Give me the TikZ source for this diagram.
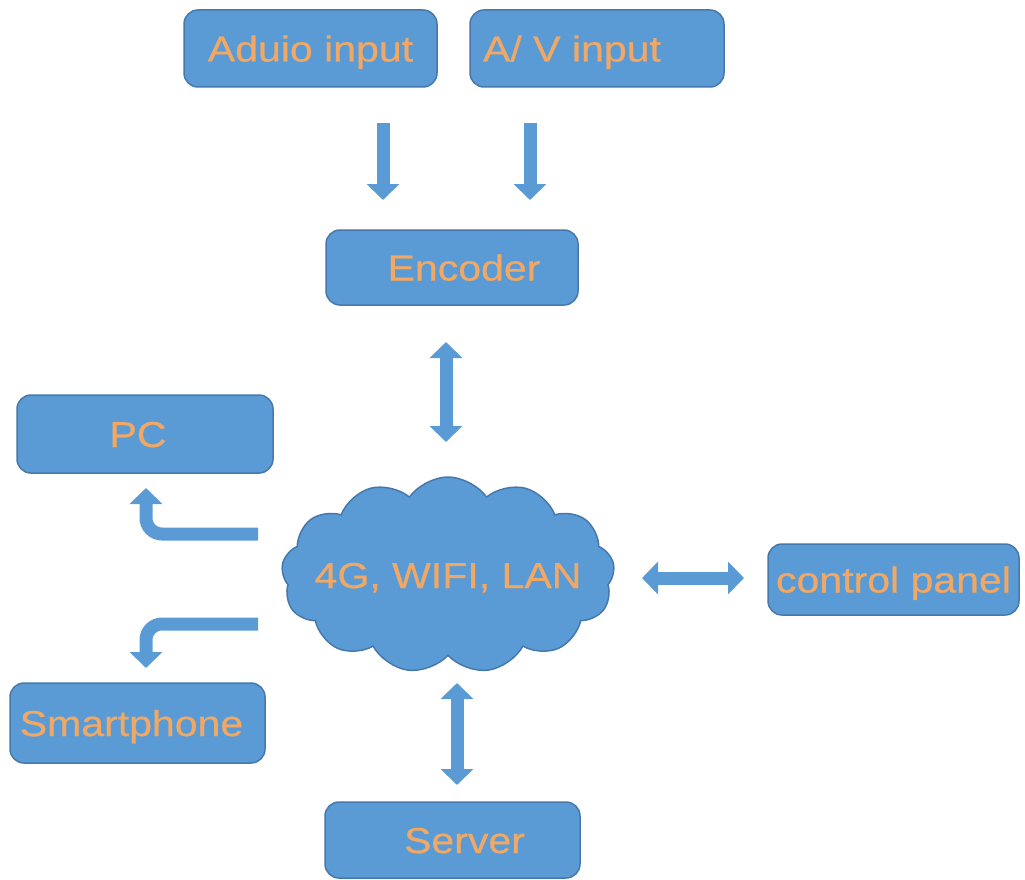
\documentclass[tikz,border=0pt]{standalone}
\usepackage{fontspec}
\setmainfont[FakeStretch=1.14,FakeBold=0.6]{Liberation Sans}
\usetikzlibrary{shapes.symbols,arrows.meta}
\definecolor{boxblue}{RGB}{91,155,213}
\definecolor{boxedge}{RGB}{70,120,172}
\definecolor{txtorange}{RGB}{240,168,100}
\begin{document}
\begin{tikzpicture}[x=1pt,y=-1pt,
  lbl/.style={text=txtorange, font=\fontsize{36}{40}\selectfont, text height=26pt, text depth=0pt, inner sep=0pt},
  box/.style={lbl, draw=boxedge, line width=1.5pt, fill=boxblue, rounded corners=14pt},
  netcloud/.style={lbl, cloud, cloud puffs=13, cloud puff arc=110, cloud ignores aspect, draw=boxedge, line width=1.5pt, fill=boxblue},
  blockarrow/.style={draw=boxblue, line width=13pt, -{Triangle[length=16pt,width=32pt]}},
  dblarrow/.style={draw=boxblue, line width=13pt, {Triangle[length=16pt,width=32pt]}-{Triangle[length=16pt,width=32pt]}}
]
\useasboundingbox (0,0) rectangle (1025,880);

\node[box, minimum width=253pt, minimum height=77pt] (aud) at (310.5,48.5) {Aduio input};
\node[box, minimum width=254pt, minimum height=77pt] (av) at (597,48.5) {A/ V input\hspace*{50pt}};
\node[box, minimum width=252pt, minimum height=75pt] (enc) at (452,267.5) {\hspace*{24pt}Encoder};
\node[box, minimum width=256pt, minimum height=78pt] (pc) at (145,434) {PC\hspace*{14pt}};
\node[netcloud, minimum width=333pt, minimum height=196pt] (net) at (448,575) {\makebox[150pt][c]{4G, WIFI, LAN}};
\node[box, minimum width=251pt, minimum height=71pt] (cp) at (893.5,579.5) {control panel};
\node[box, minimum width=255pt, minimum height=80pt] (sp) at (137.5,723) {Smartphone\hspace*{12pt}};
\node[box, minimum width=255pt, minimum height=76pt] (srv) at (452.5,840) {\hspace*{24pt}Server};

\coordinate (a1) at (383,123);
\coordinate (a2) at (383,200);
\coordinate (v1) at (530,123);
\coordinate (v2) at (530,200);
\coordinate (e1) at (446,342);
\coordinate (e2) at (446,442);
\coordinate (p1) at (258,534);
\coordinate (p2) at (146,488);
\coordinate (s1) at (258,624);
\coordinate (s2) at (146,668);
\coordinate (c1) at (642,578);
\coordinate (c2) at (744,578);
\coordinate (r1) at (457,683);
\coordinate (r2) at (457,785);

\draw[blockarrow] (a1) -- (a2);
\draw[blockarrow] (v1) -- (v2);
\draw[dblarrow] (e1) -- (e2);
\draw[blockarrow, rounded corners=16pt] (p1) -| (p2);
\draw[blockarrow, rounded corners=16pt] (s1) -| (s2);
\draw[dblarrow] (c1) -- (c2);
\draw[dblarrow] (r1) -- (r2);
\end{tikzpicture}
\end{document}
